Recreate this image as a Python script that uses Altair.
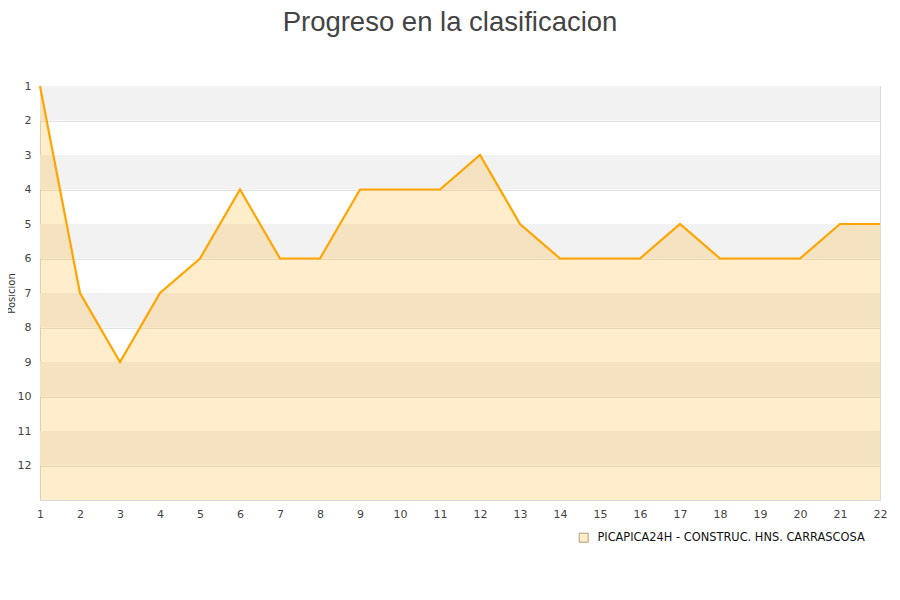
import altair as alt
import pandas as pd

jornadas = list(range(1, 23))
posiciones = [1, 7, 9, 7, 6, 4, 6, 6, 4, 4, 4, 3, 5, 6, 6, 6, 5, 6, 6, 6, 5, 5]
equipo = "PICAPICA24H - CONSTRUC. HNS. CARRASCOSA"
band_starts = [1, 3, 5, 7, 9, 11]
y_ticks = list(range(1, 13))
y_bottom = 13

df = pd.DataFrame({"jornada": jornadas, "pos": posiciones, "equipo": equipo, "base": y_bottom})
bands = pd.DataFrame({"y": band_starts, "y2": [b + 1 for b in band_starts]})

xscale = alt.Scale(domain=[1, 22], nice=False, zero=False)
yscale = alt.Scale(domain=[1, 13], reverse=True, nice=False, zero=False)

xaxis = alt.Axis(values=jornadas, domain=False, ticks=False, grid=False, labelFont="DejaVu Sans",
                 labelFontSize=11, labelColor="#444444", labelPadding=8, labelFlush=False,
                 labelOverlap=False, title=None)
yaxis = alt.Axis(values=y_ticks, domain=False, ticks=False, grid=True, gridColor="#e3e3e3",
                 labelFont="DejaVu Sans", labelFontSize=11, labelColor="#444444", labelPadding=9,
                 labelOverlap=False,
                 title="Posicion", titleFont="DejaVu Sans", titleFontSize=10, titleFontWeight="normal",
                 titleColor="#333333", titleX=-29, titleY=207, titleAngle=270, titleBaseline="middle",
                 titleAlign="center")

band_layer = alt.Chart(bands).mark_rect(color="#f2f2f2").encode(
    x=alt.X(datum=1, scale=xscale, axis=xaxis),
    x2=alt.datum(22),
    y=alt.Y("y:Q", scale=yscale, axis=yaxis),
    y2="y2:Q",
)

area_layer = alt.Chart(df).mark_area(color="#FFA500", opacity=0.2, interpolate="linear").encode(
    x=alt.X("jornada:Q", scale=xscale, axis=xaxis),
    y=alt.Y("pos:Q", scale=yscale, axis=yaxis),
    y2="base:Q",
)

line_layer = alt.Chart(df).mark_line(color="#FFA500", strokeWidth=2.2).encode(
    x=alt.X("jornada:Q", scale=xscale, axis=xaxis),
    y=alt.Y("pos:Q", scale=yscale, axis=yaxis),
)

legend_layer = alt.Chart(df.head(1)).mark_point(shape="square", filled=True, size=0, opacity=0).encode(
    x=alt.X("jornada:Q", scale=xscale, axis=xaxis),
    y=alt.Y("pos:Q", scale=yscale, axis=yaxis),
    fill=alt.Fill("equipo:N", scale=alt.Scale(domain=[equipo], range=["#FFEDCC"]),
                  legend=alt.Legend(title=None, orient="none", legendX=538, legendY=446,
                                    symbolType="square", symbolSize=81, symbolOpacity=1,
                                    symbolStrokeColor="#B89870", symbolStrokeWidth=1,
                                    labelFont="DejaVu Sans", labelFontSize=11.4, labelColor="#111111",
                                    labelOffset=8, labelLimit=400)),
)

chart = alt.layer(band_layer, area_layer, line_layer, legend_layer).properties(
    width=840,
    height=414,
    title=alt.TitleParams("Progreso en la clasificacion", font="Liberation Sans", fontSize=27.5,
                          fontWeight="normal", color="#444444", anchor="middle", dx=-10, offset=44),
    autosize=alt.AutoSizeParams(type="none"),
    padding={"left": 32, "top": 78, "right": 12, "bottom": 92},
).configure_view(stroke="#d9d9d9", strokeWidth=1).configure_axisX(labelOverlap=False)

chart.save("out.html", embed_options={"renderer": "svg", "actions": False})
